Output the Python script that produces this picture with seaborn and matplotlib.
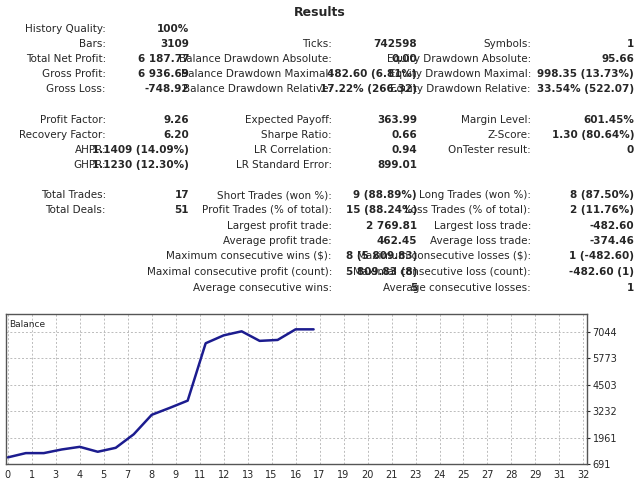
import numpy as np
import pandas as pd
import matplotlib
matplotlib.use("Agg")
import matplotlib.pyplot as plt
import seaborn as sns

# report rows: (row y in px, label, value) per column
col1 = [
    (29, "History Quality:", "100%"), (44, "Bars:", "3109"),
    (59, "Total Net Profit:", "6 187.77"), (74, "Gross Profit:", "6 936.69"),
    (89, "Gross Loss:", "-748.92"),
    (120, "Profit Factor:", "9.26"), (135, "Recovery Factor:", "6.20"),
    (150, "AHPR:", "1.1409 (14.09%)"), (165, "GHPR:", "1.1230 (12.30%)"),
    (195, "Total Trades:", "17"), (210, "Total Deals:", "51"),
]
col2 = [
    (44, "Ticks:", "742598"),
    (59, "Balance Drawdown Absolute:", "0.00"),
    (74, "Balance Drawdown Maximal:", "482.60 (6.81%)"),
    (89, "Balance Drawdown Relative:", "17.22% (266.32)"),
    (120, "Expected Payoff:", "363.99"), (135, "Sharpe Ratio:", "0.66"),
    (150, "LR Correlation:", "0.94"), (165, "LR Standard Error:", "899.01"),
    (195, "Short Trades (won %):", "9 (88.89%)"),
    (210, "Profit Trades (% of total):", "15 (88.24%)"),
    (226, "Largest profit trade:", "2 769.81"),
    (241, "Average profit trade:", "462.45"),
    (256, "Maximum consecutive wins ($):", "8 (5 809.83)"),
    (272, "Maximal consecutive profit (count):", "5 809.83 (8)"),
    (288, "Average consecutive wins:", "5"),
]
col3 = [
    (44, "Symbols:", "1"),
    (59, "Equity Drawdown Absolute:", "95.66"),
    (74, "Equity Drawdown Maximal:", "998.35 (13.73%)"),
    (89, "Equity Drawdown Relative:", "33.54% (522.07)"),
    (120, "Margin Level:", "601.45%"), (135, "Z-Score:", "1.30 (80.64%)"),
    (150, "OnTester result:", "0"),
    (195, "Long Trades (won %):", "8 (87.50%)"),
    (210, "Loss Trades (% of total):", "2 (11.76%)"),
    (226, "Largest loss trade:", "-482.60"),
    (241, "Average loss trade:", "-374.46"),
    (256, "Maximum consecutive losses ($):", "1 (-482.60)"),
    (272, "Maximal consecutive loss (count):", "-482.60 (1)"),
    (288, "Average consecutive losses:", "1"),
]

# balance curve
trade = list(range(18))
balance = [1009, 1215, 1215, 1390, 1517, 1280, 1470, 2120, 3057, 3390,
           3740, 6500, 6880, 7075, 6615, 6660, 7170, 7170]
y_ticks = [691, 1961, 3232, 4503, 5773, 7044]

sns.set_style("white")
plt.rcParams["font.family"] = ["Liberation Sans Narrow", "DejaVu Sans"]

W, H = 640, 480
fig = plt.figure(figsize=(6.4, 4.8), dpi=100)

def txt(x, y, s, size=7.5, **kw):
    fig.text(x / W, 1 - y / H, s, va="center", fontsize=size, **kw)

txt(320, 12, "Results", size=9, ha="center", fontweight="bold")
for rows, lx, vx in [(col1, 106, 189), (col2, 332, 417), (col3, 531, 634)]:
    for y, lab, val in rows:
        txt(lx, y, lab, ha="right")
        txt(vx, y, val, ha="right", fontweight="bold")

ax = fig.add_axes([6 / W, 1 - 464 / H, (587 - 6) / W, (464 - 314) / H])
df = pd.DataFrame({"trade": trade, "balance": balance})
sns.lineplot(data=df, x="trade", y="balance", ax=ax, color="#1c1c8f", linewidth=1.8)

xt = np.arange(25) * 4 / 3
ax.set_xticks(xt)
ax.set_xticklabels([str(int(round(v))) for v in xt], fontsize=7)
ax.set_xlim(-0.1, 32.2)
ax.set_yticks(y_ticks)
ax.set_yticklabels([str(v) for v in y_ticks], fontsize=7)
ax.set_ylim(691, 7908)
ax.yaxis.tick_right()
ax.tick_params(length=2, pad=2)
ax.grid(True, color="#bbbbbb", linestyle=(0, (2, 2)), linewidth=0.7)
ax.set_xlabel("")
ax.set_ylabel("")
for s in ax.spines.values():
    s.set_color("#555555")
    s.set_linewidth(1)
ax.text(0.005, 0.96, "Balance", transform=ax.transAxes, fontsize=6.5, va="top")

fig.savefig("out.png", dpi=100)
